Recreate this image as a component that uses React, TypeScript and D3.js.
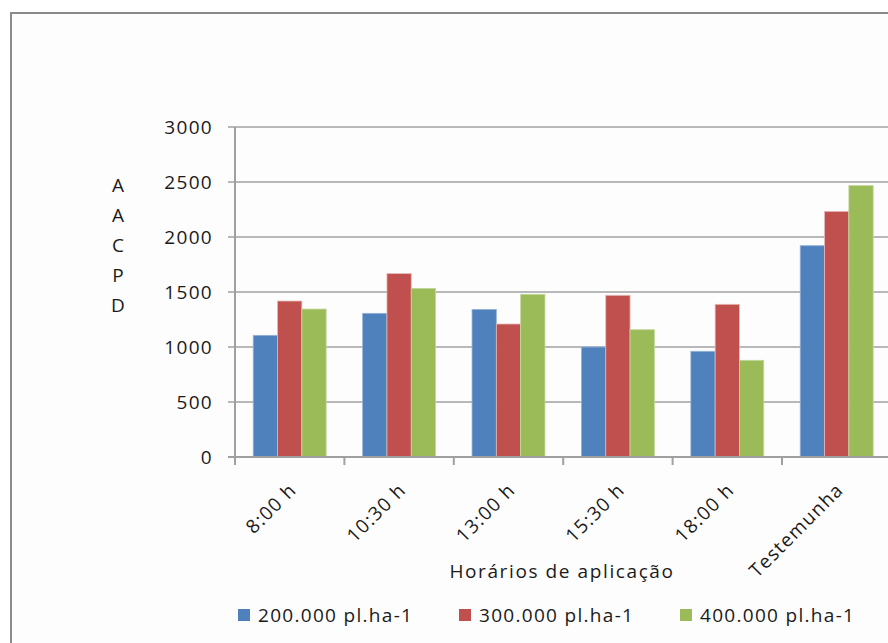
import React from 'react';
import * as d3 from 'd3';

// chart values
const categories = ['8:00 h', '10:30 h', '13:00 h', '15:30 h', '18:00 h', 'Testemunha'];
const seriesNames = ['200.000 pl.ha-1', '300.000 pl.ha-1', '400.000 pl.ha-1'];
const values200 = [1106, 1306, 1342, 1000, 961, 1921];
const values300 = [1418, 1667, 1209, 1470, 1388, 2233];
const values400 = [1345, 1533, 1479, 1157, 879, 2467];
const yTicks = [0, 500, 1000, 1500, 2000, 2500, 3000];
const yLabelLetters = ['A', 'A', 'C', 'P', 'D'];

const colors = ['#4F81BD', '#C0504D', '#9BBB59'];
const edgeColors = ['#95B3D7', '#E6B9B8', '#C3D69B'];

const W = 888, H = 643;
const plotLeft = 235, plotTop = 127, plotBottom = 457;
const bandStep = 109.4;
const font = '"Open Sans", "DejaVu Sans", sans-serif';
const fs = 19, ls = 1.3;

const App = (): JSX.Element => {
    const seriesValues = [values200, values300, values400];

    const x = d3.scaleBand<string>()
        .domain(categories)
        .range([plotLeft, plotLeft + bandStep * categories.length])
        .padding(0);

    const x1 = d3.scaleBand<string>()
        .domain(seriesNames)
        .range([0, x.bandwidth()])
        .paddingInner(0)
        .paddingOuter(0.75);

    const y = d3.scaleLinear()
        .domain([0, 3000])
        .range([plotBottom, plotTop]);

    const gridColor = '#a0a0a0';

    return (
        <svg width={W} height={H} style={{position: 'absolute', left: 0, top: 0, background: '#fff'}}>
            {/* chart area border, cut off on right and bottom */}
            <rect x={11} y={13} width={W + 20} height={H + 20} fill='#fdfdfd' stroke='#8a8a8a' strokeWidth={2} />

            {/* gridlines + y ticks */}
            {yTicks.map(t => (
                <g key={t}>
                    <line x1={plotLeft - 7} x2={W + 5} y1={y(t)} y2={y(t)} stroke={gridColor} strokeWidth={1.5} />
                    <text x={213} y={y(t)} dy='0.36em' textAnchor='end' fontFamily={font} fontSize={fs}
                          letterSpacing={ls} fill='#1a1a1a'>{t}</text>
                </g>
            ))}

            {/* bars */}
            {seriesValues.map((vals, s) => (
                <g key={seriesNames[s]}>
                    {categories.map((c, i) => (
                        <rect key={c}
                              x={(x(c) as number) + (x1(seriesNames[s]) as number)}
                              y={y(vals[i])}
                              width={x1.bandwidth()}
                              height={y(0) - y(vals[i])}
                              fill={colors[s]}
                              stroke={edgeColors[s]}
                              strokeWidth={0.8} />
                    ))}
                </g>
            ))}

            {/* axes */}
            <line x1={plotLeft} x2={plotLeft} y1={plotTop} y2={plotBottom} stroke={gridColor} strokeWidth={2} />
            <line x1={plotLeft - 7} x2={W + 5} y1={plotBottom} y2={plotBottom} stroke={gridColor} strokeWidth={2} />
            {categories.map(c => (
                <line key={c} x1={x(c)} x2={x(c)} y1={plotBottom} y2={plotBottom + 8} stroke={gridColor} strokeWidth={2} />
            ))}

            {/* category labels */}
            {categories.map(c => {
                const cx = (x(c) as number) + x.bandwidth() / 2 + 8;
                return (
                    <text key={c} transform={`translate(${cx}, 491) rotate(-45)`} textAnchor='end'
                          fontFamily={font} fontSize={fs} letterSpacing={ls} fill='#1a1a1a'>{c}</text>
                );
            })}

            {/* axis titles */}
            <text x={562} y={578} textAnchor='middle' fontFamily={font} fontSize={fs}
                  letterSpacing={1.6} fill='#1a1a1a'>
                Horários de aplicação
            </text>
            {yLabelLetters.map((l, i) => (
                <text key={i} x={118} y={185 + i * 30} dy='0.36em' textAnchor='middle'
                      fontFamily={font} fontSize={fs} fill='#1a1a1a'>{l}</text>
            ))}

            {/* legend */}
            {seriesNames.map((n, i) => {
                const lx = [238, 459, 680][i];
                return (
                    <g key={n}>
                        <rect x={lx} y={609} width={12} height={12} fill={colors[i]} />
                        <text x={lx + 20} y={615} dy='0.36em' fontFamily={font} fontSize={fs}
                              letterSpacing={ls} fill='#1a1a1a'>{n}</text>
                    </g>
                );
            })}
        </svg>
    );
};

export default App;
